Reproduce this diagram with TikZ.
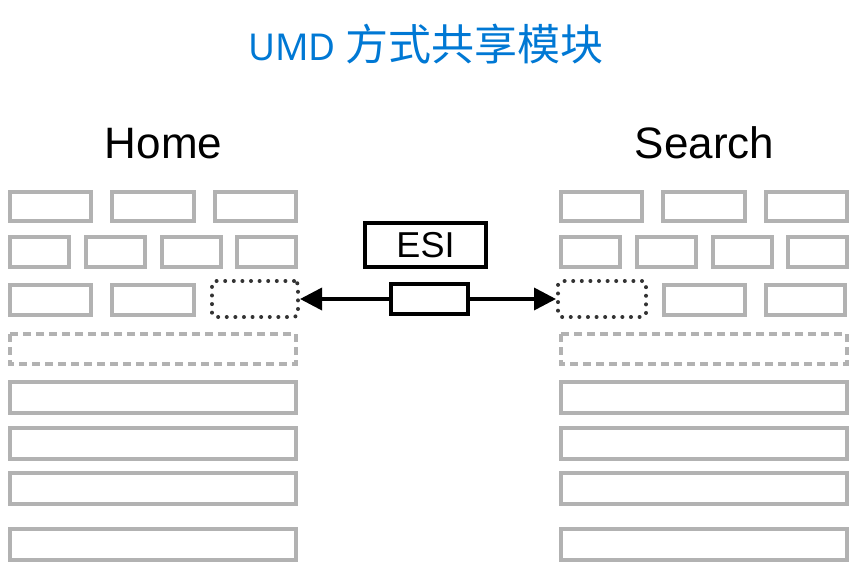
\documentclass[tikz,border=0pt]{standalone}
\usepackage{fontspec}
\setmainfont{Liberation Sans}
\newfontfamily\cjkfont{Noto Sans CJK SC}
\newfontfamily\titleLatin{Noto Sans}
\usepackage{tikz}
\usetikzlibrary{positioning,arrows.meta}
\tikzstyle{page} = [x = 1pt, y = -1pt]
\definecolor{brickColor}{RGB}{178,178,178}
\definecolor{titleColor}{RGB}{0,120,212}
\tikzstyle{brickStyle} = [draw=brickColor, line width=4pt]
\tikzstyle{placeholderStyle} = [draw=brickColor, line width=4pt, dash pattern=on 8pt off 5pt]
\tikzstyle{slotStyle} = [draw=black!80, line width=4pt, line cap=round, dash pattern=on 0pt off 8.6pt, rounded corners=4pt, inner sep=0pt, minimum height=36pt]
\tikzstyle{esiStyle} = [draw=black, line width=4pt, inner sep=0pt]
\tikzstyle{linkStyle} = [draw=black, line width=3.6pt, -{Triangle[length=22pt,width=22pt]}]
\tikzstyle{headText} = [font=\fontsize{44}{44}\selectfont, anchor=base]
\newcommand{\brickShift}[5]{\draw [brickStyle] (#1 + #5, #2) rectangle (#3 + #5, #4);}
\newcommand{\brickRowsShift}[1]{
  % first two rows of bricks
  \foreach \left/\right in {10/91, 112/194, 215/296} {
    \brickShift{\left}{192}{\right}{221}{#1}
  }
  \foreach \left in {10, 86, 162, 237} {
    \brickShift{\left}{237}{\left + 59}{267}{#1}
  }
  % placeholder row
  \draw [placeholderStyle] (10 + #1, 334) rectangle (296 + #1, 364);
  % full width rows
  \foreach \top in {382, 428, 473, 529} {
    \brickShift{10}{\top}{296}{\top + 31}{#1}
  }
}

\begin{document}
\begin{tikzpicture}[page]
  \useasboundingbox (0,0) rectangle (856,578);
  \node [anchor=base, text=titleColor] (title) at (426,60)
    {\fontsize{37}{37}\selectfont\titleLatin UMD\ \fontsize{43}{43}\selectfont\cjkfont 方式共享模块};
  \node [headText] (home) at (163.5,158) {Home};
  \node [headText] (search) at (704.5,158) {Search};

  \brickRowsShift{0}
  \brickShift{10}{285}{91}{315}{0}
  \brickShift{112}{285}{194}{315}{0}
  \node [slotStyle, minimum width=86pt] (homeSlot) at (255,299) {};

  \brickRowsShift{551}
  \brickShift{113}{285}{194}{315}{551}
  \brickShift{215}{285}{294}{315}{551}
  \node [slotStyle, minimum width=88pt] (searchSlot) at (602,299) {};

  \node [esiStyle, minimum width=121pt, minimum height=44pt, font=\fontsize{36}{36}\selectfont] (esi) at (425.5,245) {ESI};
  \node [esiStyle, minimum width=77pt, minimum height=30pt] (module) at (429.5,299) {};
  \draw [linkStyle] (module.west) -- (homeSlot.east);
  \draw [linkStyle] (module.east) -- (searchSlot.west);
\end{tikzpicture}
\end{document}
